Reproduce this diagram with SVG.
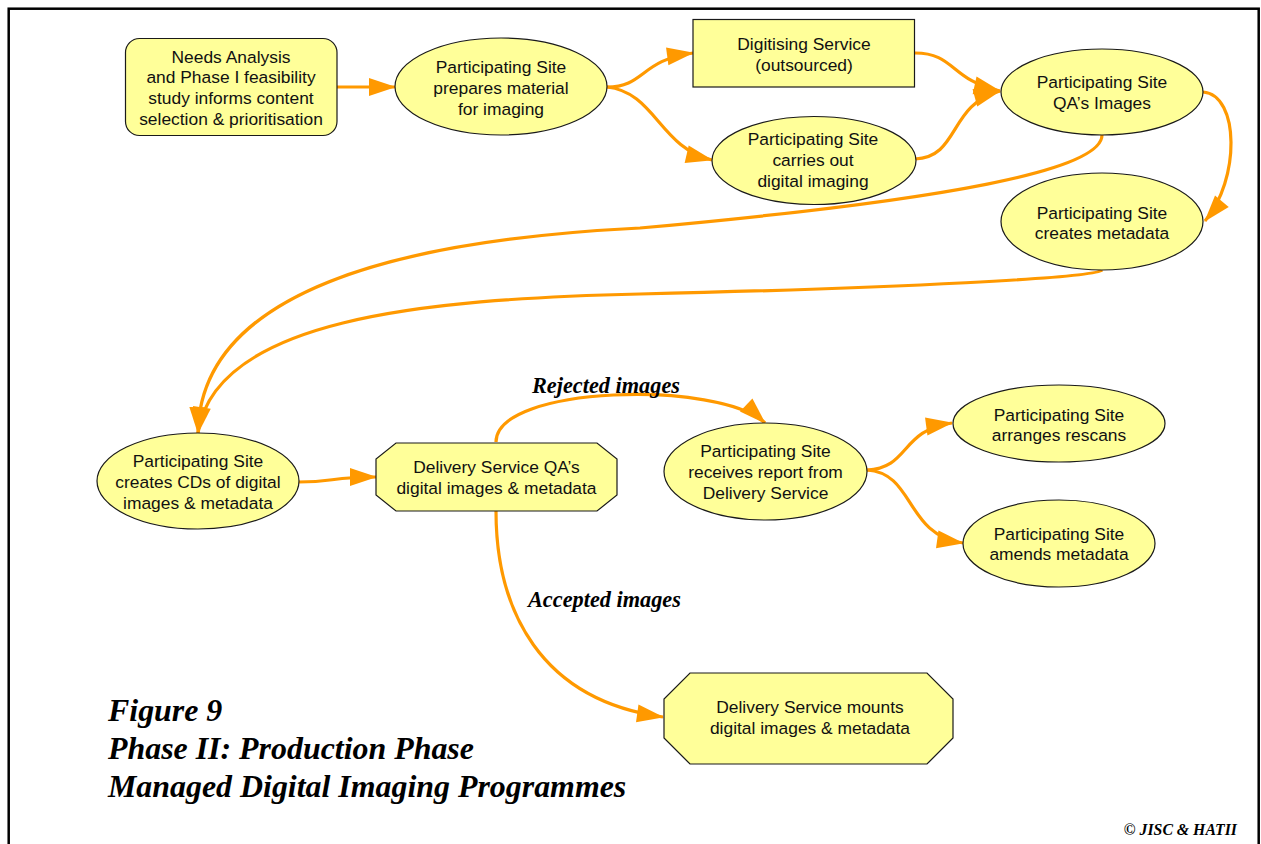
<svg xmlns="http://www.w3.org/2000/svg" width="1261" height="844" viewBox="0 0 1261 844">
  <defs>
    <marker id="arrow" markerUnits="userSpaceOnUse" markerWidth="27" markerHeight="18" refX="26" refY="9" orient="auto" overflow="visible">
      <path d="M0,0 L27,9 L0,18 z" fill="#ff9900"/>
    </marker>
  </defs>
  <style>
    .node { fill: #ffff99; stroke: #1a1a1a; stroke-width: 1.2; }
    .label { font-family: "Liberation Sans", Arial, sans-serif; font-size: 17.4px; fill: #111; text-anchor: middle; }
    .edge { fill: none; stroke: #ff9900; stroke-width: 3.2; marker-end: url(#arrow); }
    .edge-label { font-family: "Liberation Serif", "Times New Roman", serif; font-weight: bold; font-style: italic; font-size: 22.3px; fill: #000; }
    .title { font-family: "Liberation Serif", "Times New Roman", serif; font-weight: bold; font-style: italic; font-size: 31.9px; fill: #000; }
    .credit { font-family: "Liberation Serif", "Times New Roman", serif; font-weight: bold; font-style: italic; font-size: 15.8px; fill: #000; text-anchor: end; }
  </style>

  <rect width="1261" height="844" fill="#ffffff"/>
  <!-- page frame (bottom edge runs past the page) -->
  <rect x="8.7" y="8.7" width="1250" height="900" fill="none" stroke="#000" stroke-width="2.5"/>

  <g id="connectors">
    <path class="edge" d="M337,87 L395,87"/>
    <path class="edge" d="M607,87 C645,87 640,60 693,53"/>
    <path class="edge" d="M607,87 C655,92 660,148 712,160"/>
    <path class="edge" d="M915,53 C955,53 950,80 1000,91"/>
    <path class="edge" d="M915,159 C960,157 948,105 1000,91"/>
    <path class="edge" d="M1203,92 C1240,95 1240,180 1205,221"/>
    <path class="edge" d="M1102,135 C1102,170 950,200 640,228 C400,240 200,290 198,433"/>
    <path class="edge" d="M1102,270 C1095,278 900,288 640,294 C420,299 215,320 198,433"/>
    <path class="edge" d="M299,482 C335,482 330,477 376,477"/>
    <path class="edge" d="M496,442 C496,385 720,380 765,423"/>
    <path class="edge" d="M867,470 C910,468 900,430 952,423"/>
    <path class="edge" d="M867,470 C915,473 905,535 963,543"/>
    <path class="edge" d="M496,511 C496,610 540,700 663,717"/>
  </g>

  <g id="edge-labels">
    <text class="edge-label" x="532" y="393">Rejected images</text>
    <text class="edge-label" x="528" y="607">Accepted images</text>
  </g>

  <g id="needs-analysis">
    <rect class="node" x="125.5" y="38.5" width="211.5" height="97" rx="14" ry="14"/>
    <text class="label" x="231" y="62.5">Needs Analysis</text>
    <text class="label" x="231" y="83.3">and Phase I feasibility</text>
    <text class="label" x="231" y="104.1">study informs content</text>
    <text class="label" x="231" y="125">selection &amp; prioritisation</text>
  </g>

  <g id="prepares-material">
    <ellipse class="node" cx="501" cy="86.5" rx="106" ry="48.5"/>
    <text class="label" x="501" y="73">Participating Site</text>
    <text class="label" x="501" y="94">prepares material</text>
    <text class="label" x="501" y="114.5">for imaging</text>
  </g>

  <g id="digitising-service">
    <rect class="node" x="693" y="19.5" width="221.5" height="67.5"/>
    <text class="label" x="804" y="50">Digitising Service</text>
    <text class="label" x="804" y="70.5">(outsourced)</text>
  </g>

  <g id="digital-imaging">
    <ellipse class="node" cx="814" cy="160.5" rx="102" ry="44"/>
    <text class="label" x="813" y="145">Participating Site</text>
    <text class="label" x="813" y="166">carries out</text>
    <text class="label" x="813" y="186.7">digital imaging</text>
  </g>

  <g id="qa-images">
    <ellipse class="node" cx="1102" cy="92" rx="101" ry="43"/>
    <text class="label" x="1102" y="88">Participating Site</text>
    <text class="label" x="1102" y="109">QA’s Images</text>
  </g>

  <g id="creates-metadata">
    <ellipse class="node" cx="1102" cy="221.5" rx="101" ry="48.5"/>
    <text class="label" x="1102" y="218.5">Participating Site</text>
    <text class="label" x="1102" y="239">creates metadata</text>
  </g>

  <g id="creates-cds">
    <ellipse class="node" cx="198" cy="481" rx="101" ry="48"/>
    <text class="label" x="198" y="467">Participating Site</text>
    <text class="label" x="198" y="488">creates CDs of digital</text>
    <text class="label" x="198" y="509">images &amp; metadata</text>
  </g>

  <g id="delivery-qa">
    <polygon class="node" points="396,443 597,443 617,459 617,495 597,511 396,511 376,495 376,459"/>
    <text class="label" x="496.5" y="473">Delivery Service QA’s</text>
    <text class="label" x="496.5" y="494">digital images &amp; metadata</text>
  </g>

  <g id="receives-report">
    <ellipse class="node" cx="765.5" cy="471.5" rx="101.5" ry="48.5"/>
    <text class="label" x="765.5" y="457">Participating Site</text>
    <text class="label" x="765.5" y="478">receives report from</text>
    <text class="label" x="765.5" y="499">Delivery Service</text>
  </g>

  <g id="arranges-rescans">
    <ellipse class="node" cx="1059" cy="423.5" rx="106" ry="38.5"/>
    <text class="label" x="1059" y="421">Participating Site</text>
    <text class="label" x="1059" y="441">arranges rescans</text>
  </g>

  <g id="amends-metadata">
    <ellipse class="node" cx="1059" cy="543.5" rx="96" ry="43.5"/>
    <text class="label" x="1059" y="540">Participating Site</text>
    <text class="label" x="1059" y="560">amends metadata</text>
  </g>

  <g id="mounts">
    <polygon class="node" points="690,673 927,673 953,699 953,738 927,764 690,764 664,738 664,699"/>
    <text class="label" x="810" y="713">Delivery Service mounts</text>
    <text class="label" x="810" y="734">digital images &amp; metadata</text>
  </g>

  <g id="caption">
    <text class="title" x="108" y="721">Figure 9</text>
    <text class="title" x="108" y="759">Phase II: Production Phase</text>
    <text class="title" x="108" y="797">Managed Digital Imaging Programmes</text>
    <text class="credit" x="1237" y="835">© JISC &amp; HATII</text>
  </g>
</svg>
